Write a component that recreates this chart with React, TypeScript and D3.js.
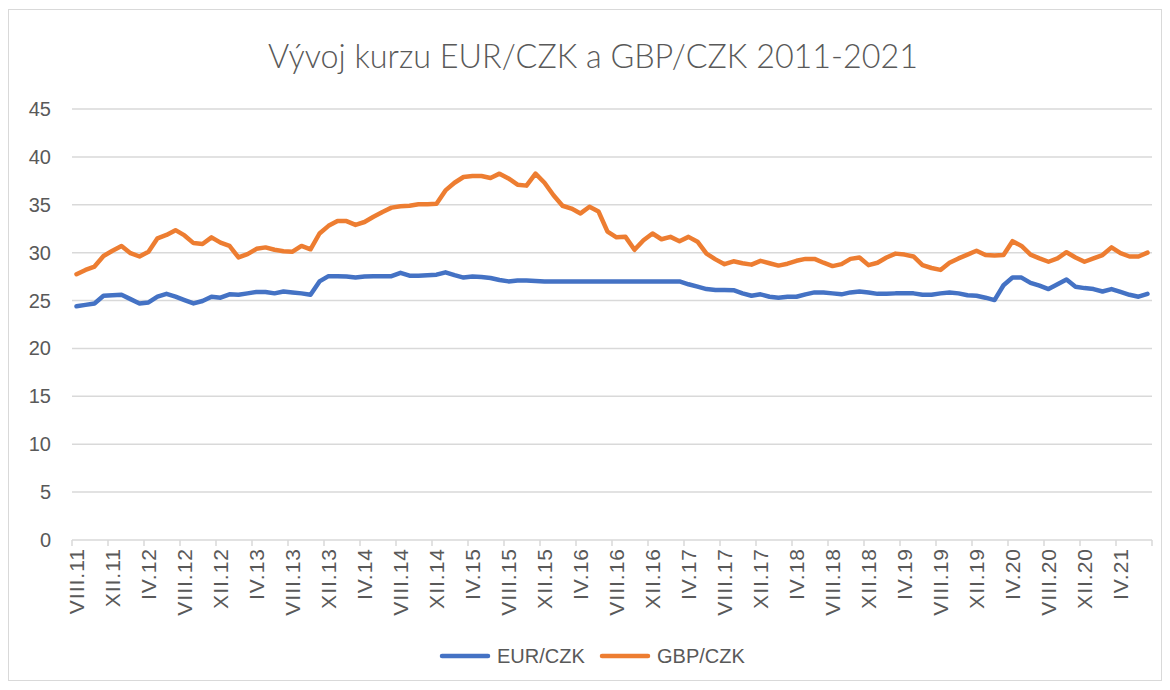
import { useEffect, useRef } from "react";
import * as d3 from "d3";

const romanMonths = ["I", "II", "III", "IV", "V", "VI", "VII", "VIII", "IX", "X", "XI", "XII"];

// monthly categories VIII.11 .. VII.21
const months: string[] = [];
for (let k = 7; k < 7 + 120; k++) {
  const yy = 11 + Math.floor(k / 12);
  months.push(`${romanMonths[k % 12]}.${yy}`);
}

const eurCzk = [
  24.4, 24.55, 24.7, 25.5, 25.55, 25.6, 25.15, 24.7, 24.8, 25.4, 25.7, 25.4,
  25.05, 24.7, 24.95, 25.4, 25.3, 25.65, 25.6, 25.75, 25.9, 25.9, 25.75, 25.95,
  25.85, 25.75, 25.6, 27.0, 27.55, 27.55, 27.5, 27.4, 27.5, 27.55, 27.55, 27.55,
  27.9, 27.6, 27.6, 27.65, 27.7, 27.95, 27.65, 27.4, 27.5, 27.45, 27.35, 27.15,
  27.0, 27.1, 27.1, 27.05, 27.0, 27.0, 27.0, 27.0, 27.0, 27.0, 27.0, 27.0,
  27.0, 27.0, 27.0, 27.0, 27.0, 27.0, 27.0, 27.0, 26.7, 26.45, 26.2, 26.1,
  26.1, 26.08, 25.75, 25.5, 25.65, 25.4, 25.3, 25.4, 25.4, 25.65, 25.85, 25.85,
  25.75, 25.65, 25.85, 25.95, 25.85, 25.7, 25.7, 25.75, 25.75, 25.75, 25.6, 25.6,
  25.75, 25.85, 25.75, 25.55, 25.5, 25.3, 25.05, 26.6, 27.4, 27.4, 26.85, 26.55,
  26.2, 26.7, 27.2, 26.45, 26.3, 26.2, 25.95, 26.2, 25.9, 25.6, 25.4, 25.7,
];

const gbpCzk = [
  27.75, 28.2, 28.55, 29.65, 30.2, 30.7, 29.95, 29.6, 30.1, 31.5, 31.85, 32.35,
  31.8, 31.0, 30.9, 31.6, 31.05, 30.7, 29.5, 29.85, 30.4, 30.55, 30.3, 30.15,
  30.1, 30.7, 30.35, 32.0, 32.8, 33.3, 33.3, 32.9, 33.2, 33.75, 34.25, 34.7,
  34.85, 34.9, 35.05, 35.05, 35.1, 36.5, 37.3, 37.9, 38.0, 38.0, 37.8, 38.25,
  37.75, 37.1, 37.0, 38.25, 37.3, 36.0, 34.9, 34.6, 34.1, 34.8, 34.3, 32.2,
  31.6, 31.65, 30.3, 31.3, 32.0, 31.4, 31.65, 31.2, 31.65, 31.15, 29.9, 29.3,
  28.8, 29.1, 28.9, 28.75, 29.15, 28.9, 28.65, 28.85, 29.15, 29.35, 29.35, 28.95,
  28.6, 28.8, 29.35, 29.5, 28.7, 28.95, 29.5, 29.9, 29.8, 29.6, 28.7, 28.4,
  28.2, 28.95, 29.4, 29.8, 30.2, 29.75, 29.7, 29.75, 31.2, 30.7, 29.8, 29.4,
  29.05, 29.4, 30.05, 29.5, 29.05, 29.4, 29.75, 30.55, 29.95, 29.6, 29.6, 30.0,
];

const yTicks = [0, 5, 10, 15, 20, 25, 30, 35, 40, 45];

const series = [
  { name: "EUR/CZK", values: eurCzk, color: "#4472C4" },
  { name: "GBP/CZK", values: gbpCzk, color: "#ED7D31" },
];

const App = () => {
  const chartRef = useRef<SVGSVGElement>(null);

  useEffect(() => {
    const svg = d3.select(chartRef.current);
    svg.selectAll("*").remove();

    const font = "'Liberation Sans', Arial, sans-serif";
    const textColor = "#595959";
    const gridColor = "#d9d9d9";

    // chart frame
    svg.append("rect")
      .attr("x", 8.5).attr("y", 9.5)
      .attr("width", 1153).attr("height", 671)
      .attr("fill", "#fff").attr("stroke", gridColor);

    svg.append("text")
      .attr("x", 593).attr("y", 68)
      .attr("text-anchor", "middle")
      .attr("font-family", "Lato, 'Open Sans', sans-serif")
      .attr("font-weight", 300)
      .attr("font-size", 34)
      .attr("textLength", 650)
      .attr("lengthAdjust", "spacingAndGlyphs")
      .attr("fill", textColor)
      .text("Vývoj kurzu EUR/CZK a GBP/CZK 2011-2021");

    const x = d3.scaleBand().domain(months).range([72, 1152]).padding(0);
    const y = d3.scaleLinear().domain([0, 45]).range([540, 109]);
    const cx = (i: number) => (x(months[i]) as number) + x.bandwidth() / 2;

    // gridlines
    svg.append("g")
      .selectAll("line")
      .data(yTicks.filter((t) => t > 0))
      .join("line")
      .attr("x1", 72).attr("x2", 1152)
      .attr("y1", (d) => y(d)).attr("y2", (d) => y(d))
      .attr("stroke", gridColor).attr("stroke-width", 1.5);

    // y labels
    svg.append("g")
      .selectAll("text")
      .data(yTicks)
      .join("text")
      .attr("x", 51).attr("y", (d) => y(d))
      .attr("dy", "0.35em")
      .attr("text-anchor", "end")
      .attr("font-family", font).attr("font-size", 20)
      .attr("fill", textColor)
      .text((d) => d);

    // x axis
    svg.append("line")
      .attr("x1", 72).attr("x2", 1152)
      .attr("y1", 540).attr("y2", 540)
      .attr("stroke", gridColor).attr("stroke-width", 1.5);

    const tickIdx = d3.range(0, months.length + 1, 4);
    svg.append("g")
      .selectAll("line")
      .data(tickIdx)
      .join("line")
      .attr("x1", (i) => (i < months.length ? (x(months[i]) as number) : 1152))
      .attr("x2", (i) => (i < months.length ? (x(months[i]) as number) : 1152))
      .attr("y1", 540).attr("y2", 546)
      .attr("stroke", gridColor).attr("stroke-width", 1.5);

    svg.append("g")
      .selectAll("text")
      .data(d3.range(0, months.length, 4))
      .join("text")
      .attr("transform", (i) => `translate(${cx(i)},548) rotate(-90)`)
      .attr("dy", "0.35em")
      .attr("text-anchor", "end")
      .attr("font-family", font).attr("font-size", 21)
      .attr("letter-spacing", 1)
      .attr("fill", textColor)
      .text((i) => months[i]);

    // lines
    const line = d3.line<number>()
      .x((_, i) => cx(i))
      .y((d) => y(d));

    svg.append("g")
      .selectAll("path")
      .data(series)
      .join("path")
      .attr("d", (s) => line(s.values))
      .attr("fill", "none")
      .attr("stroke", (s) => s.color)
      .attr("stroke-width", 4.5)
      .attr("stroke-linejoin", "round")
      .attr("stroke-linecap", "round");

    // legend
    const legend = svg.append("g")
      .selectAll("g")
      .data(series)
      .join("g")
      .attr("transform", (_, i) => `translate(${442 + i * 160},656)`);
    legend.append("line")
      .attr("x1", 0).attr("x2", 46)
      .attr("stroke", (s) => s.color)
      .attr("stroke-width", 4.5)
      .attr("stroke-linecap", "round");
    legend.append("text")
      .attr("x", 55).attr("dy", "0.35em")
      .attr("font-family", font).attr("font-size", 20)
      .attr("fill", textColor)
      .text((s) => s.name);
  }, []);

  return (
    <svg
      ref={chartRef}
      width={1170}
      height={690}
      style={{ position: "absolute", left: 0, top: 0 }}
    ></svg>
  );
};

export default App;
